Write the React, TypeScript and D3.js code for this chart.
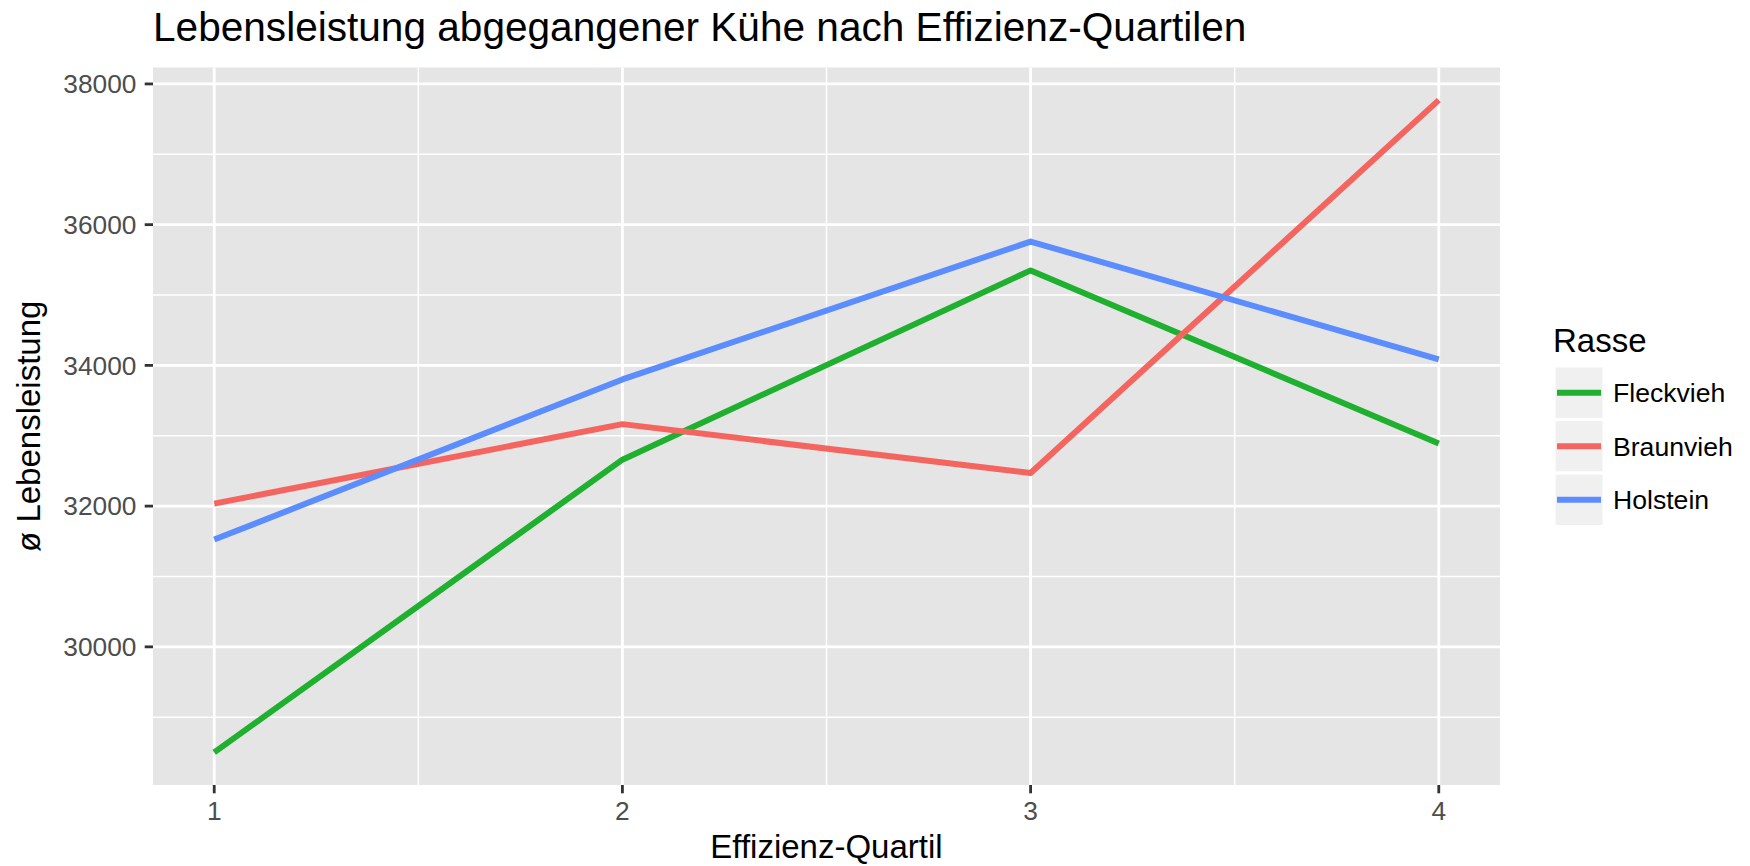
import React from "react";
import * as d3 from "d3";

const quartiles = [1, 2, 3, 4];
const xTicks = [1, 2, 3, 4];
const xMinor = [1.5, 2.5, 3.5];
const yTicks = [30000, 32000, 34000, 36000, 38000];
const yMinor = [29000, 31000, 33000, 35000, 37000];
const breeds = ["Fleckvieh", "Braunvieh", "Holstein"];
const fleckvieh = [28500, 32660, 35350, 32890];
const braunvieh = [32035, 33165, 32470, 37770];
const holstein = [31525, 33800, 35760, 34085];
const colors = ["#1EB02E", "#F4655F", "#5B8DFF"];

const W = 1750;
const H = 866;
const P = { left: 153, right: 1500, top: 67.5, bottom: 785 };
const FONT = "'Liberation Sans', Arial, Helvetica, sans-serif";

export default function App() {
  const seriesVals = [fleckvieh, braunvieh, holstein];
  const all = seriesVals.flat();
  const [mn, mx] = d3.extent(all) as [number, number];
  const padY = (mx - mn) * 0.05;
  const x = d3.scaleLinear().domain([1 - 0.15, 4 + 0.15]).range([P.left, P.right]);
  const y = d3.scaleLinear().domain([mn - padY, mx + padY]).range([P.bottom, P.top]);
  const line = d3
    .line<[number, number]>()
    .x((d) => x(d[0]))
    .y((d) => y(d[1]));

  const legX = 1554;
  const legY0 = 366;
  const keyH = 53.5;
  const keyW = 50;

  return (
    <div style={{ position: "absolute", left: 0, top: 0 }}>
      <svg width={W} height={H} style={{ display: "block", background: "#fff" }} fontFamily={FONT}>
        <rect x={P.left} y={P.top} width={P.right - P.left} height={P.bottom - P.top} fill="#E5E5E5" />
        {yMinor.map((v) => (
          <line key={"ym" + v} x1={P.left} x2={P.right} y1={y(v)} y2={y(v)} stroke="#fff" strokeWidth={1.5} />
        ))}
        {xMinor.map((v) => (
          <line key={"xm" + v} x1={x(v)} x2={x(v)} y1={P.top} y2={P.bottom} stroke="#fff" strokeWidth={1.5} />
        ))}
        {yTicks.map((v) => (
          <line key={"yM" + v} x1={P.left} x2={P.right} y1={y(v)} y2={y(v)} stroke="#fff" strokeWidth={2.8} />
        ))}
        {xTicks.map((v) => (
          <line key={"xM" + v} x1={x(v)} x2={x(v)} y1={P.top} y2={P.bottom} stroke="#fff" strokeWidth={2.8} />
        ))}
        {seriesVals.map((vals, i) => (
          <path
            key={breeds[i]}
            d={line(quartiles.map((q, j) => [q, vals[j]] as [number, number])) || ""}
            fill="none"
            stroke={colors[i]}
            strokeWidth={6}
            strokeLinejoin="round"
          />
        ))}
        {/* y axis */}
        {yTicks.map((v) => (
          <g key={"yt" + v}>
            <line x1={P.left - 8.3} x2={P.left} y1={y(v)} y2={y(v)} stroke="#333" strokeWidth={2.8} />
            <text x={136.5} y={y(v)} dy="0.35em" textAnchor="end" fontSize={26.3} fill="#4D4D4D">
              {v}
            </text>
          </g>
        ))}
        {/* x axis */}
        {xTicks.map((v) => (
          <g key={"xt" + v}>
            <line x1={x(v)} x2={x(v)} y1={P.bottom} y2={P.bottom + 8.3} stroke="#333" strokeWidth={2.8} />
            <text x={x(v)} y={820} textAnchor="middle" fontSize={26.3} fill="#4D4D4D">
              {v}
            </text>
          </g>
        ))}
        <text x={(P.left + P.right) / 2} y={858} textAnchor="middle" fontSize={33} fill="#000">
          Effizienz-Quartil
        </text>
        <text
          transform={`translate(40,${(P.top + P.bottom) / 2}) rotate(-90)`}
          textAnchor="middle"
          fontSize={33}
          fill="#000"
        >
          ø Lebensleistung
        </text>
        <text x={P.left} y={41} fontSize={40.6} fill="#000">
          Lebensleistung abgegangener Kühe nach Effizienz-Quartilen
        </text>
        {/* legend */}
        <text x={1553} y={352} fontSize={33} fill="#000">
          Rasse
        </text>
        {breeds.map((b, i) => {
          const ty = legY0 + i * keyH;
          return (
            <g key={"lg" + b}>
              <rect x={legX} y={ty} width={keyW} height={keyH} fill="#F0F0F0" stroke="#fff" strokeWidth={3} />
              <line
                x1={legX + 3}
                x2={legX + keyW - 3}
                y1={ty + keyH / 2}
                y2={ty + keyH / 2}
                stroke={colors[i]}
                strokeWidth={6}
              />
              <text x={1613} y={ty + keyH / 2} dy="0.35em" fontSize={26.6} fill="#000">
                {b}
              </text>
            </g>
          );
        })}
      </svg>
    </div>
  );
}
